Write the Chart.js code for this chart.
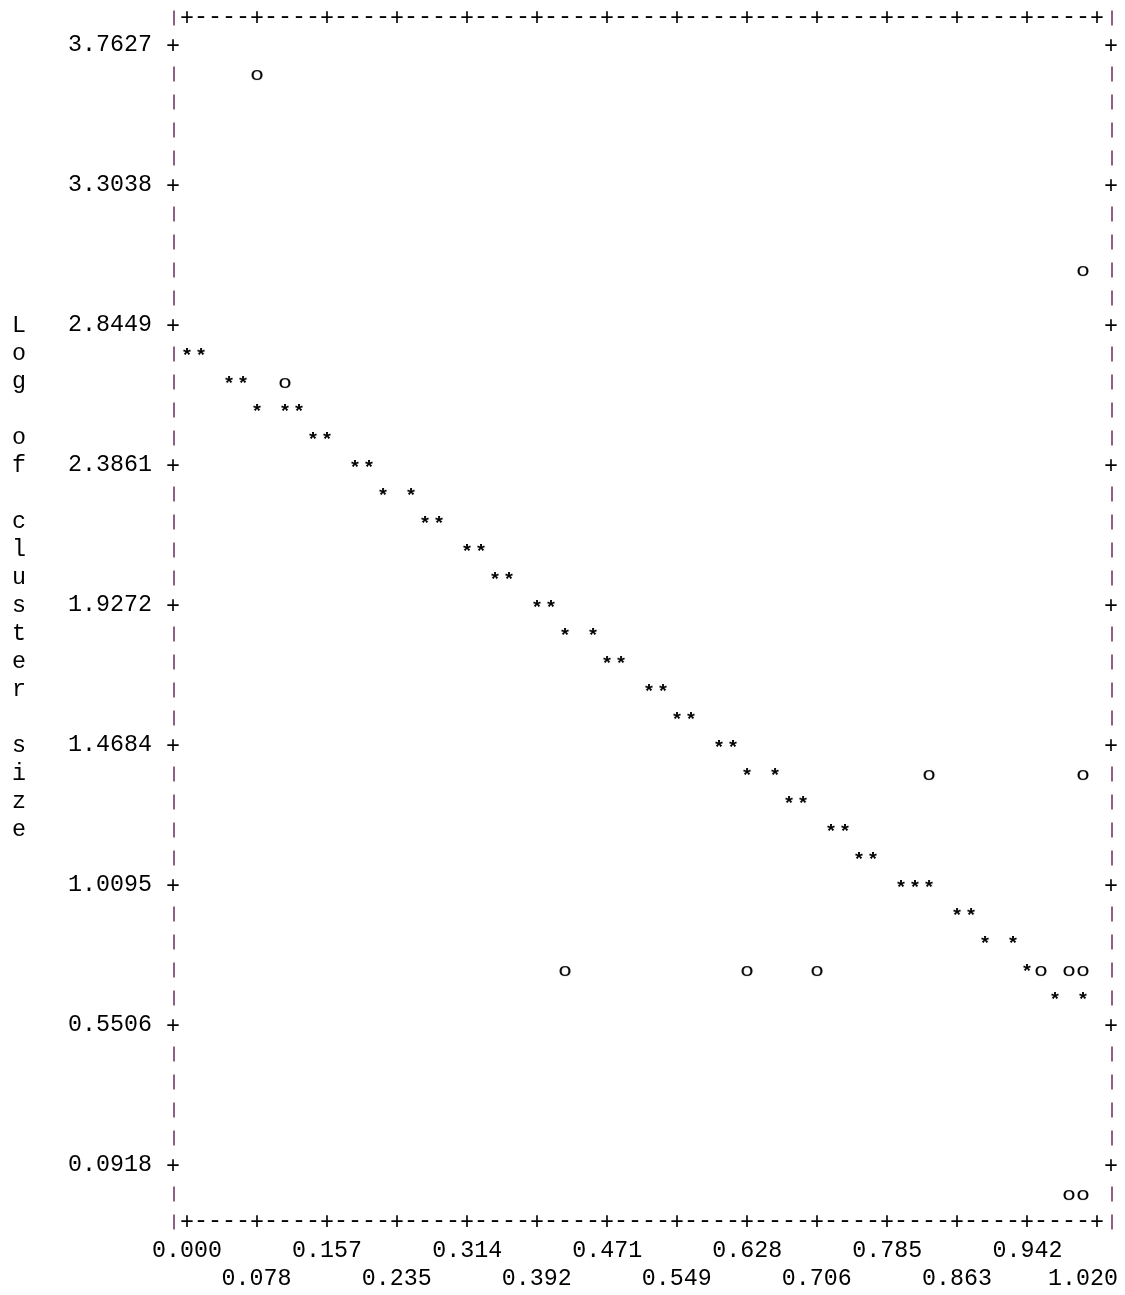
<!DOCTYPE html>
<html>
<head>
<meta charset="utf-8">
<title>Log of cluster size</title>
<script src="https://cdn.jsdelivr.net/npm/chart.js@4/dist/chart.umd.min.js"></script>
<style>
  body { margin: 0; background: #fff; }
  canvas { display: block; }
</style>
</head>
<body>
<canvas id="plot" width="1125" height="1295"></canvas>
<script>
const xTickLabels = [0.000, 0.078, 0.157, 0.235, 0.314, 0.392, 0.471, 0.549, 0.628, 0.706, 0.785, 0.863, 0.942, 1.020];
const yTickLabels = [3.7627, 3.3038, 2.8449, 2.3861, 1.9272, 1.4684, 1.0095, 0.5506, 0.0918];
const yTitle = 'Log of cluster size';

// '*' symbols
const starX = [0.0000, 0.0157, 0.0471, 0.0628, 0.0785, 0.1098, 0.1255, 0.1412, 0.1569,
    0.1883, 0.2040, 0.2197, 0.2511, 0.2668, 0.2825, 0.3138, 0.3295, 0.3452, 0.3609,
    0.3923, 0.4080, 0.4237, 0.4551, 0.4708, 0.4865, 0.5178, 0.5335, 0.5492, 0.5649,
    0.5963, 0.6120, 0.6277, 0.6591, 0.6748, 0.6905, 0.7218, 0.7375, 0.7532, 0.7689,
    0.8003, 0.8160, 0.8317, 0.8631, 0.8788, 0.8945, 0.9258, 0.9415, 0.9729, 1.0043];
const starY = [2.7532, 2.7532, 2.6614, 2.6614, 2.5697, 2.5697, 2.5697, 2.4779, 2.4779,
    2.3861, 2.3861, 2.2943, 2.2943, 2.2026, 2.2026, 2.1108, 2.1108, 2.0190, 2.0190,
    1.9272, 1.9272, 1.8355, 1.8355, 1.7437, 1.7437, 1.6519, 1.6519, 1.5601, 1.5601,
    1.4684, 1.4684, 1.3766, 1.3766, 1.2848, 1.2848, 1.1931, 1.1931, 1.1013, 1.1013,
    1.0095, 1.0095, 1.0095, 0.9177, 0.9177, 0.8260, 0.8260, 0.7342, 0.6424, 0.6424];

// 'o' symbols
const circleX = [0.0785, 1.0043, 0.1098, 0.8317, 1.0043, 0.4237, 0.6277, 0.7062, 0.9572, 0.9886, 1.0043, 0.9886, 1.0043];
const circleY = [3.6709, 3.0285, 2.6614, 1.3766, 1.3766, 0.7342, 0.7342, 0.7342, 0.7342, 0.7342, 0.7342, 0.0000, 0.0000];

const FONT_FAMILY = "'Liberation Mono', 'DejaVu Sans Mono', monospace";
const FONT_SIZE = 23.33;
const FONT = FONT_SIZE + 'px ' + FONT_FAMILY;
const INK = '#000';
const BAR = '#8f5f86';

// text plot grid: 5 columns between x ticks, 5 rows between y ticks
const lastCol = (xTickLabels.length - 1) * 5;
const colStep = (xTickLabels[xTickLabels.length - 1] - xTickLabels[0]) / lastCol;
const rowStep = (yTickLabels[0] - yTickLabels[yTickLabels.length - 1]) / ((yTickLabels.length - 1) * 5);
const yTop = yTickLabels[0] + rowStep;
const lastRow = (yTickLabels.length - 1) * 5 + 3;

// plot symbol as a small canvas, used as the point style
function glyph(ch, font, dy, sy) {
    const c = document.createElement('canvas');
    c.width = 14;
    c.height = 28;
    const g = c.getContext('2d');
    g.font = font;
    g.fillStyle = INK;
    g.textAlign = 'center';
    const m = g.measureText(ch);
    g.translate(7, 14 + dy);
    g.scale(1, sy);
    g.fillText(ch, 0, (m.actualBoundingBoxAscent - m.actualBoundingBoxDescent) / 2);
    return c;
}

// ascii frame, border ticks and the stacked y title
const textFrame = {
    id: 'textFrame',
    afterDraw(chart) {
        const ctx = chart.ctx;
        const x = chart.scales.x;
        const y = chart.scales.y;
        const col = c => x.getPixelForValue(c * colStep);
        const row = r => y.getPixelForValue(yTop - r * rowStep);

        ctx.save();
        ctx.font = FONT;
        ctx.textAlign = 'center';
        ctx.fillStyle = INK;

        function put(ch, px, py) {
            const m = ctx.measureText(ch);
            ctx.fillText(ch, px, py + (m.actualBoundingBoxAscent - m.actualBoundingBoxDescent) / 2);
        }
        function bar(px, py) {
            ctx.fillStyle = BAR;
            ctx.fillRect(px, py - 6.5, 2, 15);
            ctx.fillStyle = INK;
        }

        for (let r = 0; r <= lastRow; r++) {
            const tickRow = r >= 1 && r <= lastRow - 2 && (r - 1) % 5 === 0;
            for (const c of [-1, lastCol + 1]) {
                if (tickRow) put('+', col(c), row(r));
                else bar(col(c), row(r));
            }
            if (r === 0 || r === lastRow) {
                for (let c = 0; c <= lastCol; c++) {
                    put(c % 5 === 0 ? '+' : '-', col(c), row(r));
                }
            }
        }

        for (let i = 0; i < yTitle.length; i++) {
            if (yTitle[i] !== ' ') ctx.fillText(yTitle[i], col(-12), row(11 + i) + 7);
        }
        ctx.restore();
    }
};

const tickFont = { family: FONT_FAMILY, size: FONT_SIZE, lineHeight: '28px' };

new Chart(document.getElementById('plot'), {
    type: 'scatter',
    data: {
        datasets: [
            {
                label: '*',
                data: starX.map((v, i) => ({ x: v, y: starY[i] })),
                pointStyle: glyph('*', 'bold 20px ' + FONT_FAMILY, -2, 0.9),
                pointRadius: 5
            },
            {
                label: 'o',
                data: circleX.map((v, i) => ({ x: v, y: circleY[i] })),
                pointStyle: glyph('o', FONT, 2, 0.8),
                pointRadius: 5
            }
        ]
    },
    options: {
        responsive: false,
        animation: false,
        devicePixelRatio: 1,
        layout: { padding: { left: 0, top: 17, right: 14, bottom: 0 } },
        plugins: {
            legend: { display: false },
            tooltip: { enabled: false }
        },
        scales: {
            x: {
                type: 'linear',
                min: -colStep,
                max: xTickLabels[xTickLabels.length - 1] + colStep,
                grid: { display: false, drawTicks: false },
                border: { display: false },
                afterBuildTicks: scale => {
                    scale.ticks = xTickLabels.map(v => ({ value: v }));
                },
                afterFit: scale => {
                    scale.height = 74;
                    scale.paddingLeft = 0;
                    scale.paddingRight = 0;
                },
                ticks: {
                    autoSkip: false,
                    maxRotation: 0,
                    minRotation: 0,
                    padding: 16,
                    color: INK,
                    font: tickFont,
                    callback: (value, index) => {
                        let s = xTickLabels[index].toFixed(3);
                        if (index === xTickLabels.length - 1) s += '  ';
                        return index % 2 ? ['', s] : [s, ''];
                    }
                }
            },
            y: {
                type: 'linear',
                min: yTop - lastRow * rowStep,
                max: yTop,
                grid: { display: false, drawTicks: false },
                border: { display: false },
                afterBuildTicks: scale => {
                    scale.ticks = yTickLabels.map(v => ({ value: v }));
                },
                afterFit: scale => {
                    scale.width = 173;
                    scale.paddingTop = 0;
                    scale.paddingBottom = 0;
                },
                ticks: {
                    padding: 21,
                    color: INK,
                    font: tickFont,
                    callback: value => value.toFixed(4)
                }
            }
        }
    },
    plugins: [textFrame]
});
</script>
</body>
</html>
